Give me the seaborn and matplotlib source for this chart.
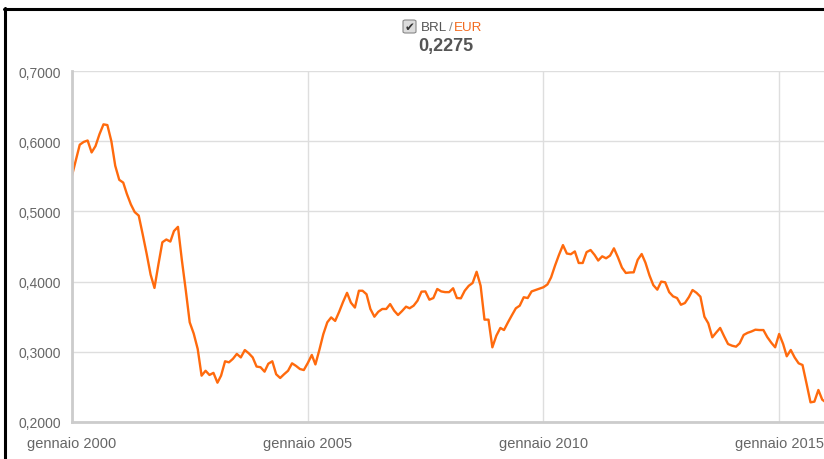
import matplotlib
matplotlib.use("Agg")
import matplotlib.pyplot as plt
from matplotlib.lines import Line2D
from matplotlib.patches import FancyBboxPatch
from matplotlib.ticker import FuncFormatter
import numpy as np
import pandas as pd
import seaborn as sns

# monthly BRL/EUR rate, Jan 2000 .. Jan 2016
start_month = "2000-01-01"
brl_eur = [
    0.551, 0.574, 0.595, 0.599, 0.601, 0.584, 0.593, 0.610, 0.624, 0.623, 0.600, 0.565,
    0.545, 0.541, 0.525, 0.510, 0.499, 0.494, 0.468, 0.440, 0.410, 0.391, 0.425, 0.456,
    0.460, 0.457, 0.472, 0.478, 0.431, 0.387, 0.342, 0.326, 0.304, 0.266, 0.273, 0.267,
    0.270, 0.256, 0.266, 0.2865, 0.285, 0.290, 0.297, 0.292, 0.3025, 0.298, 0.292, 0.279,
    0.278, 0.2717, 0.283, 0.2865, 0.268, 0.2627, 0.268, 0.273, 0.2836, 0.280, 0.2755, 0.274,
    0.284, 0.2955, 0.282, 0.303, 0.325, 0.342, 0.349, 0.344, 0.357, 0.371, 0.384, 0.370,
    0.363, 0.387, 0.387, 0.382, 0.361, 0.350, 0.357, 0.361, 0.361, 0.368, 0.3586, 0.3524,
    0.358, 0.3643, 0.362, 0.3657, 0.3728, 0.3857, 0.386, 0.3742, 0.3766, 0.3895, 0.386, 0.385,
    0.385, 0.3905, 0.3766, 0.3762, 0.387, 0.394, 0.398, 0.414, 0.394, 0.3458, 0.3458, 0.3064,
    0.323, 0.334, 0.331, 0.342, 0.352, 0.362, 0.3657, 0.3777, 0.3766, 0.386, 0.388, 0.390,
    0.392, 0.396, 0.406, 0.423, 0.438, 0.452, 0.440, 0.439, 0.443, 0.4265, 0.4265, 0.442,
    0.445, 0.438, 0.430, 0.436, 0.4332, 0.437, 0.4474, 0.4346, 0.420, 0.4123, 0.413, 0.4132,
    0.431, 0.4393, 0.427, 0.409, 0.395, 0.3885, 0.400, 0.399, 0.385, 0.379, 0.3766, 0.367,
    0.3695, 0.378, 0.388, 0.384, 0.3785, 0.350, 0.3406, 0.3206, 0.3276, 0.334, 0.322, 0.3111,
    0.3087, 0.3073, 0.3121, 0.324, 0.327, 0.329, 0.3315, 0.331, 0.331, 0.321, 0.313, 0.3064,
    0.3254, 0.3111, 0.2936, 0.3026, 0.292, 0.2836, 0.2812, 0.255, 0.228, 0.229, 0.2456, 0.2318,
    0.2275,
]
tick_years = [2000, 2005, 2010, 2015]
y_ticks = [0.2, 0.3, 0.4, 0.5, 0.6, 0.7]
pair_base = "BRL"
pair_quote = "EUR"

df = pd.DataFrame({
    "date": pd.date_range(start_month, periods=len(brl_eur), freq="MS"),
    "rate": brl_eur,
})

sns.set_theme(style="white")
plt.rcParams["font.family"] = ["Liberation Sans", "DejaVu Sans"]

W, H = 824, 460
fig = plt.figure(figsize=(W / 100, H / 100), dpi=100)
fig.set_facecolor("white")

# plot area: left edge at x=72, runs past the right edge of the picture
x0 = pd.Timestamp("2000-01-01")
x1 = pd.Timestamp("2016-02-01")
px_per_day = 235.8 / (pd.Timestamp("2005-01-01") - x0).days
ax_w = (x1 - x0).days * px_per_day
ax = fig.add_axes([72 / W, 37 / H, ax_w / W, 351 / H])

sns.lineplot(data=df, x="date", y="rate", ax=ax, color="#ff6a0d", linewidth=1.7)

ax.set_xlim(x0, x1)
ax.set_ylim(0.2, 0.7)
ax.set_xlabel("")
ax.set_ylabel("")

ax.set_yticks(y_ticks)
ax.yaxis.set_major_formatter(FuncFormatter(lambda v, p: "{:.4f}".format(v).replace(".", ",")))
xt = [pd.Timestamp(year=y, month=1, day=1) for y in tick_years]
ax.set_xticks(xt)
ax.set_xticklabels(["gennaio {}".format(y) for y in tick_years], fontsize=10.5)

ax.grid(True, color="#dedede", linewidth=1)
ax.set_axisbelow(True)
for s in ["top", "right"]:
    ax.spines[s].set_visible(False)
for s in ["left", "bottom"]:
    ax.spines[s].set_color("#cccccc")
    ax.spines[s].set_linewidth(2)
ax.tick_params(axis="both", colors="#cccccc", length=6, width=1.4,
               labelcolor="#666666")
ax.tick_params(axis="y", pad=2, labelsize=10)
ax.tick_params(axis="x", pad=4)

# header: checkbox + pair + last value
cb = FancyBboxPatch((403 / W, 1 - 34 / H), 13 / W, 13 / H,
                    boxstyle="round,pad=0,rounding_size=0.003",
                    transform=fig.transFigure, facecolor="#dcdcdc",
                    edgecolor="#888888", linewidth=0.8)
fig.add_artist(cb)
fig.text(409.5 / W, 1 - 27.5 / H, "\u2714", family="DejaVu Sans", fontsize=8.5,
         color="#333333", ha="center", va="center")

# pair label pieces placed one after the other
renderer = fig.canvas.get_renderer()
xpos = 421
for txt, col in [(pair_base, "#555555"), ("/", "#888888"), (pair_quote, "#f26a1f")]:
    t = fig.text(xpos / W, 1 - 28 / H, txt, fontsize=9.6, color=col, ha="left", va="center")
    xpos = t.get_window_extent(renderer).x1 + 1.5

fig.text(446 / W, 1 - 47 / H, "{:.4f}".format(brl_eur[-1]).replace(".", ","),
         fontsize=13, fontweight="bold", color="#555555", ha="center", va="center")

# screenshot frame (left and top)
fig.add_artist(Line2D([5 / W, 5 / W], [0, 1 - 9 / H], color="black", linewidth=2.2,
                      transform=fig.transFigure))
fig.add_artist(Line2D([4 / W, 1], [1 - 10 / H, 1 - 10 / H], color="black", linewidth=2.2,
                      transform=fig.transFigure))

fig.savefig("out.png", dpi=100)
